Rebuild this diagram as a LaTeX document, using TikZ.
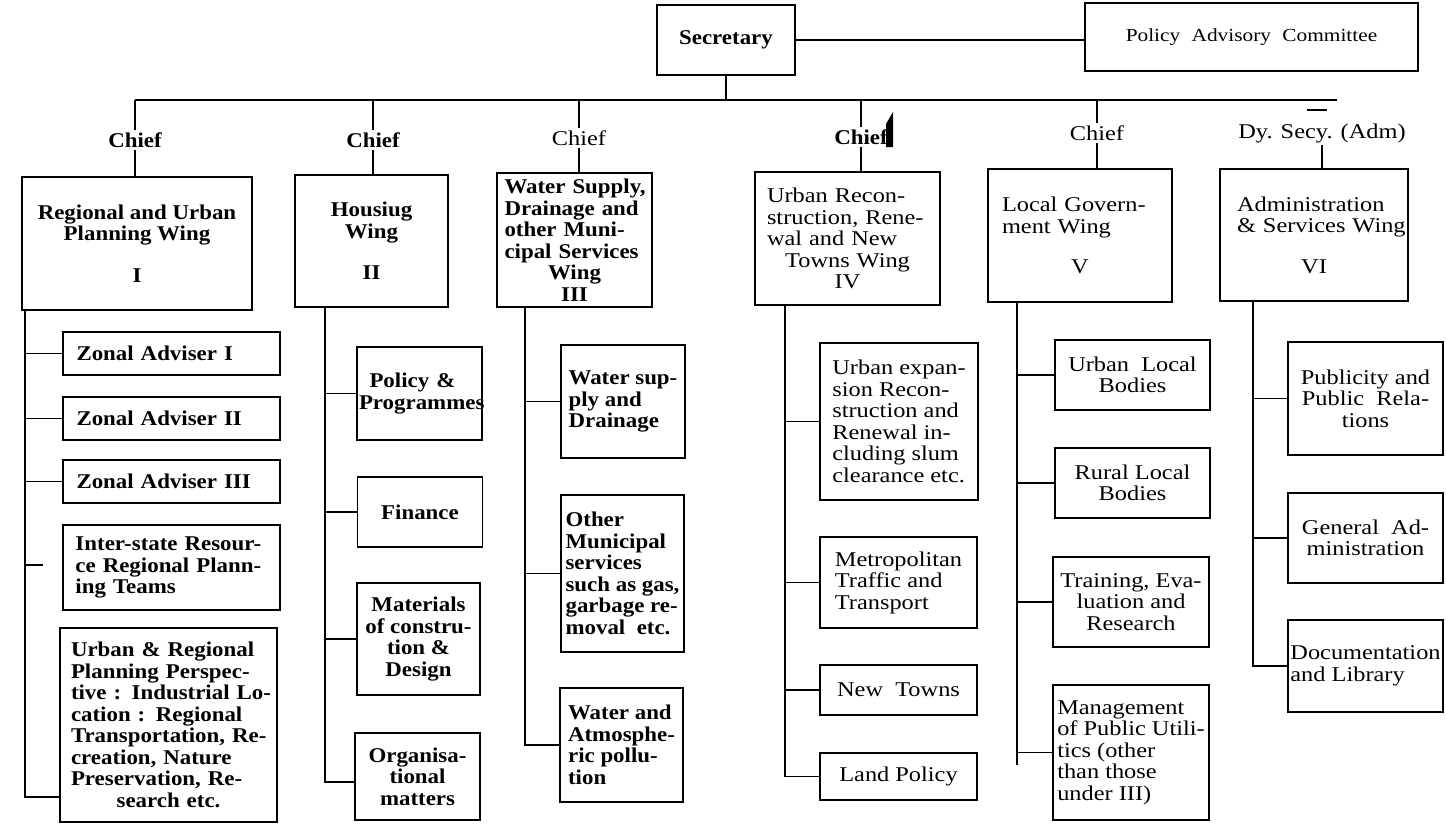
\documentclass[tikz,border=0pt]{standalone}
\usepackage{fontspec}
\setmainfont{Liberation Serif}[FakeStretch=1.16]
\newfontfamily\boldserif{Liberation Serif}[FakeStretch=1.09]
% one line of a fixed-width block: left, centred, spread
\newcommand\lnl[1]{\makebox[\hsize][l]{#1}}
\newcommand\lnc[1]{\makebox[\hsize][c]{#1}}
\newcommand\lns[1]{\makebox[\hsize][s]{#1}}
\tikzset{
  every node/.style={font=\fontsize{10.5}{10.75}\selectfont},
  heavy/.style={font=\fontsize{10.5}{10.75}\selectfont\boldserif\bfseries},
  bx/.style 2 args={draw, line width=0.8pt, minimum width=#1*0.5pt,
    minimum height=#2*0.5pt, inner xsep=2pt, inner ysep=0pt},
  tw/.style={text width=#1*0.5pt},
  lbl/.style={inner sep=1pt},
  link/.style={line width=0.9pt}
}
\begin{document}
\begin{tikzpicture}[x=0.5pt, y=-0.5pt]
\useasboundingbox (0,0) rectangle (1446,825);

% ---- head of the department
\node[bx={138}{70}, heavy] (sec) at (726,40) {Secretary};
\node[bx={333}{68}, font=\fontsize{9.2}{10}\selectfont] (pac) at (1251.5,37)
  {Policy\hspace{3pt} Advisory\hspace{3pt} Committee};
\draw[link] (sec.east) -- (sec.east -| pac.west);

\coordinate (busL) at (135,100);
\coordinate (busR) at (1337,100);
\draw[link] (busL) -- (busR);
\draw[link] (sec.south) -- (sec.south |- busL);

% ---- heads of the wings
\node[lbl, heavy] (c1) at (135,140) {Chief};
\node[lbl, heavy] (c2) at (373,140) {Chief};
\node[lbl] (c3) at (579,138) {Chief};
\node[lbl, heavy] (c4) at (861,137) {Chief};
\node[lbl] (c5) at (1097,133) {Chief};
\node[lbl] (c6) at (1322,133) {Dy. Secy. (Adm)};
\foreach \c in {c1,c2,c3,c4,c5}
  \draw[link] (\c.north |- busL) -- (\c.north);
\coordinate (dA) at (1307,110);
\coordinate (dB) at (1327,110);
\draw[link] (dA) -- (dB);
% ink blot beside the fourth head
\fill (886,147) -- (886,124) -- (893,112) -- (893,147) -- cycle;

% ---- wings
\node[bx={230}{133}, heavy, align=center] (w1) at (137,243.5)
  {Regional and Urban\\Planning Wing\\[10pt]I};
\node[bx={153}{132}, heavy, align=center] (w2) at (371.5,241)
  {Housiug\\Wing\\[10pt]II};
\node[bx={155}{134}, heavy, tw=140, align=left] (w3) at (574.5,240)
  {\lnl{Water Supply,}\\\lnl{Drainage and}\\\lnl{other Muni-}\\\lnl{cipal Services}\\\lnc{Wing}\\\lnc{III}};
\node[bx={185}{133}, tw=161, align=left] (w4) at (847.5,238.5)
  {\lnl{Urban Recon-}\\\lnl{struction, Rene-}\\\lnl{wal and New}\\\lnc{Towns Wing}\\\lnc{IV}};
\node[bx={184}{133}, tw=156, align=left] (w5) at (1080,235.5)
  {\lnl{Local Govern-}\\\lnl{ment Wing}\\[9.5pt]\lnc{V}};
\node[bx={188}{132}, tw=154, align=left] (w6) at (1314,235)
  {\lnl{Administration}\\\lnl{\& Services Wing}\\[9.5pt]\lnc{VI}};

\draw[link] (c1.south) -- (c1.south |- w1.north);
\draw[link] (c2.south) -- (c2.south |- w2.north);
\draw[link] (c3.south) -- (c3.south |- w3.north);
\draw[link] (c4.south) -- (c4.south |- w4.north);
\draw[link] (c5.south) -- (c5.south |- w5.north);
\draw[link] (c6.south) -- (c6.south |- w6.north);

% ---- wing I
\node[bx={217}{43}, heavy, tw=190, align=left] (z1) at (171.5,353.5) {Zonal Adviser I};
\node[bx={217}{43}, heavy, tw=190, align=left] (z2) at (171.5,418.5) {Zonal Adviser II};
\node[bx={217}{43}, heavy, tw=190, align=left] (z3) at (171.5,481.5) {Zonal Adviser III};
\node[bx={217}{85}, heavy, tw=192, align=left] (is) at (171.5,567.5)
  {\lns{Inter-state Resour-}\\\lns{ce Regional Plann-}\\\lnl{ing Teams}};
\node[bx={217}{194}, heavy, tw=195, align=left] (ur) at (168.5,725)
  {\lns{Urban \& Regional}\\\lns{Planning Perspec-}\\\lns{tive : Industrial Lo-}\\\lns{cation : Regional}\\\lns{Transportation, Re-}\\\lns{creation, Nature}\\\lns{Preservation, Re-}\\\lnc{search etc.}};
\coordinate (s1) at (25,797);
\coordinate (isdash) at (43,565);
\draw[link] (w1.south -| s1) -- (s1) -- (s1 -| ur.west);
\foreach \b in {z1,z2,z3} \draw[link] (s1 |- \b.west) -- (\b.west);
\draw[link] (s1 |- isdash) -- (isdash);

% ---- wing II
\node[bx={125}{93}, heavy, tw=121, inner xsep=1pt, align=left] (pp) at (419.5,393.5)
  {\lnc{\makebox[50pt][s]{Policy \&}}\\\lnl{Programmes}};
\node[bx={125}{70}, heavy] (fi) at (420,512) {Finance};
\node[bx={123}{112}, heavy, align=center] (ma) at (418.5,639)
  {Materials\\of constru-\\tion \&\\Design};
\node[bx={125}{87}, heavy, align=center] (or) at (417.5,776.5)
  {Organisa-\\tional\\matters};
\coordinate (s2) at (325,782);
\draw[link] (w2.south -| s2) -- (s2) -- (s2 -| or.west);
\foreach \b in {pp,fi,ma} \draw[link] (s2 |- \b.west) -- (\b.west);

% ---- wing III
\node[bx={124}{113}, heavy, align=left] (ws) at (623,401.5)
  {Water sup-\\ply and\\Drainage};
\node[bx={123}{157}, heavy, align=left] (om) at (622.5,573.5)
  {Other\\Municipal\\services\\such as gas,\\garbage re-\\moval\ \ etc.};
\node[bx={123}{114}, heavy, align=left] (wa) at (621.5,745)
  {Water and\\Atmosphe-\\ric pollu-\\tion};
\coordinate (s3) at (525,745);
\draw[link] (w3.south -| s3) -- (s3) -- (s3 -| wa.west);
\foreach \b in {ws,om} \draw[link] (s3 |- \b.west) -- (\b.west);

% ---- wing IV
\node[bx={158}{157}, align=left] (ue) at (899,421.5)
  {Urban expan-\\sion Recon-\\struction and\\Renewal in-\\cluding slum\\clearance etc.};
\node[bx={157}{91}, align=left] (mt) at (898.5,582.5)
  {Metropolitan\\Traffic and\\Transport};
\node[bx={157}{50}] (nt) at (898.5,690) {New\ \ Towns};
\node[bx={157}{47}] (lp) at (898.5,776.5) {Land Policy};
\coordinate (s4) at (785,776.5);
\draw[link] (w4.south -| s4) -- (s4) -- (s4 -| lp.west);
\foreach \b in {ue,mt,nt} \draw[link] (s4 |- \b.west) -- (\b.west);

% ---- wing V
\node[bx={155}{70}, align=center] (ul) at (1132.5,375) {Urban\ \ Local\\Bodies};
\node[bx={155}{70}, align=center] (rl) at (1132.5,483) {Rural Local\\Bodies};
\node[bx={156}{90}, align=center] (tr) at (1131,602)
  {Training, Eva-\\luation and\\Research};
\node[bx={156}{135}, align=left, inner xsep=1pt] (mg) at (1131,752.5)
  {Management\\of Public Utili-\\tics (other\\than those\\under III)};
\coordinate (s5) at (1017,765);
\draw[link] (w5.south -| s5) -- (s5);
\foreach \b in {ul,rl,tr,mg} \draw[link] (s5 |- \b.west) -- (\b.west);

% ---- wing VI
\node[bx={155}{113}, align=center] (pu) at (1365.5,398.5)
  {Publicity and\\Public\ \ Rela-\\tions};
\node[bx={155}{90}, align=center] (ga) at (1365.5,538)
  {General\ \ Ad-\\ministration};
\node[bx={155}{92}, align=left, inner xsep=1pt] (dl) at (1365.5,666)
  {Documentation\\and Library};
\coordinate (s6) at (1253,666);
\draw[link] (w6.south -| s6) -- (s6) -- (s6 -| dl.west);
\foreach \b in {pu,ga} \draw[link] (s6 |- \b.west) -- (\b.west);
\end{tikzpicture}
\end{document}
